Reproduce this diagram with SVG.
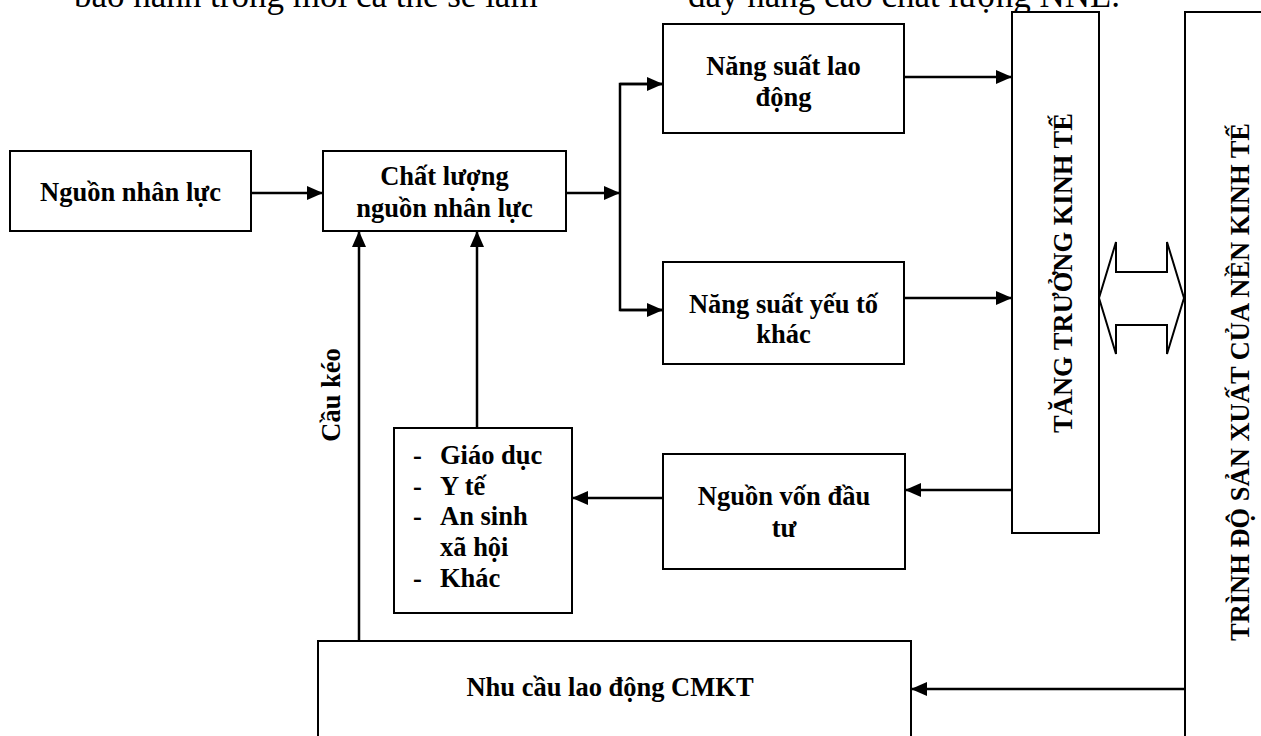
<svg xmlns="http://www.w3.org/2000/svg" width="1261" height="736" viewBox="0 0 1261 736">
<style>
.box{fill:#fff;stroke:#000;stroke-width:2}
.t{font-family:"Liberation Serif","Times New Roman",serif;font-weight:bold;font-size:26.5px;fill:#000}
.c{text-anchor:middle}
.top{font-family:"Liberation Serif","Times New Roman",serif;font-size:35px;fill:#000}
.ln{fill:none;stroke:#000;stroke-width:2.5}
</style>
<defs>
<marker id="ah" markerUnits="userSpaceOnUse" markerWidth="16" markerHeight="14" viewBox="0 0 16 14" refX="16" refY="7" orient="auto">
<path d="M0,0 L16,7 L0,14 z" fill="#000"/>
</marker>
</defs>
<rect width="1261" height="736" fill="#fff"/>
<g id="top-text">
<text class="top" x="74" y="7">bảo hành trong mỗi cá thể sẽ làm</text>
<text class="top" x="688" y="7">đẩy nâng cao chất lượng NNL.</text>
</g>
<g id="n-nguon-nhan-luc">
<rect class="box" x="10" y="151" width="241" height="80"/>
<text class="t c" x="130.5" y="201">Nguồn nhân lực</text>
</g>
<g id="n-chat-luong">
<rect class="box" x="323" y="151" width="243" height="80"/>
<text class="t c" x="444.5" y="185">Chất lượng</text>
<text class="t c" x="444.5" y="217">nguồn nhân lực</text>
</g>
<g id="n-nang-suat-ld">
<rect class="box" x="663" y="24" width="241" height="109"/>
<text class="t c" x="783.5" y="75">Năng suất lao</text>
<text class="t c" x="783.5" y="106">động</text>
</g>
<g id="n-nang-suat-khac">
<rect class="box" x="663" y="262" width="241" height="102"/>
<text class="t c" x="783.5" y="313">Năng suất yếu tố</text>
<text class="t c" x="783.5" y="343">khác</text>
</g>
<g id="n-tang-truong">
<rect class="box" x="1012" y="12" width="87" height="521"/>
<text class="t c" transform="translate(1072,273) rotate(-90)">TĂNG TRƯỞNG KINH TẾ</text>
</g>
<g id="n-trinh-do">
<rect class="box" x="1185" y="12" width="90" height="740"/>
<text class="t c" font-size="27.3" transform="translate(1249,382) rotate(-90)">TRÌNH ĐỘ SẢN XUẤT CỦA NỀN KINH TẾ</text>
</g>
<g id="n-nguon-von">
<rect class="box" x="663" y="454" width="242" height="115"/>
<text class="t c" x="784" y="505">Nguồn vốn đầu</text>
<text class="t c" x="784" y="537">tư</text>
</g>
<g id="n-list">
<rect class="box" x="394" y="428" width="178" height="185"/>
<text class="t" x="413" y="464">-</text><text class="t" x="440" y="464">Giáo dục</text>
<text class="t" x="413" y="495">-</text><text class="t" x="440" y="495">Y tế</text>
<text class="t" x="413" y="525">-</text><text class="t" x="440" y="525">An sinh</text>
<text class="t" x="440" y="556">xã hội</text>
<text class="t" x="413" y="587">-</text><text class="t" x="440" y="587">Khác</text>
</g>
<g id="n-nhu-cau">
<rect class="box" x="318" y="641" width="593" height="120"/>
<text class="t c" font-size="27" x="610" y="696">Nhu cầu lao động CMKT</text>
</g>
<g id="n-cau-keo">
<text class="t c" font-size="24" transform="translate(340,395) rotate(-90)">Cầu kéo</text>
</g>
<g id="connectors">
<line class="ln" x1="251" y1="193" x2="323" y2="193" marker-end="url(#ah)"/>
<line class="ln" x1="566" y1="193" x2="620" y2="193" marker-end="url(#ah)"/>
<polyline class="ln" points="663,84 620,84 620,310 663,310"/>
<line class="ln" x1="620" y1="84" x2="663" y2="84" marker-end="url(#ah)"/>
<line class="ln" x1="620" y1="310" x2="663" y2="310" marker-end="url(#ah)"/>
<line class="ln" x1="904" y1="77" x2="1012" y2="77" marker-end="url(#ah)"/>
<line class="ln" x1="904" y1="298" x2="1012" y2="298" marker-end="url(#ah)"/>
<line class="ln" x1="1012" y1="490" x2="905" y2="490" marker-end="url(#ah)"/>
<line class="ln" x1="663" y1="498" x2="572" y2="498" marker-end="url(#ah)"/>
<line class="ln" x1="477" y1="428" x2="477" y2="231" marker-end="url(#ah)"/>
<line class="ln" x1="359" y1="641" x2="359" y2="231" marker-end="url(#ah)"/>
<line class="ln" x1="1185" y1="689" x2="911" y2="689" marker-end="url(#ah)"/>
<polygon points="1099,298 1116,242 1116,272 1167,272 1167,242 1184,298 1167,354 1167,325 1116,325 1116,354" fill="#fff" stroke="#000" stroke-width="2"/>
</g>
</svg>
